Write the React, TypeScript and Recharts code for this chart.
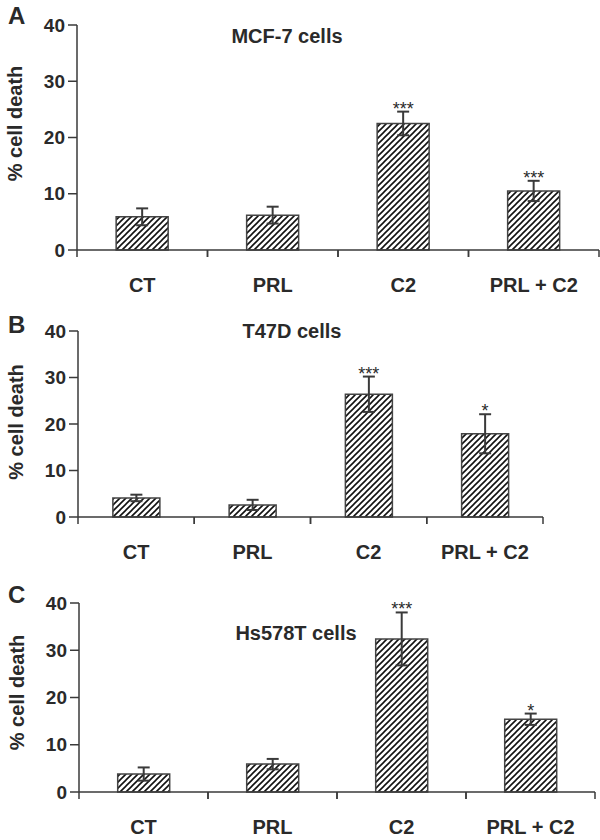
import React from "react";
import { BarChart, Bar, XAxis, YAxis, ErrorBar, LabelList } from "recharts";

const categories = ["CT", "PRL", "C2", "PRL + C2"];
const yTicks = [0, 10, 20, 30, 40];

const mcf7Death = [5.9, 6.2, 22.5, 10.5];
const mcf7Sem = [1.5, 1.5, 2.1, 1.8];
const mcf7Stars = ["", "", "***", "***"];

const t47dDeath = [4.1, 2.6, 26.4, 17.9];
const t47dSem = [0.7, 1.1, 3.8, 4.2];
const t47dStars = ["", "", "***", "*"];

const hs578tDeath = [3.8, 5.9, 32.4, 15.4];
const hs578tSem = [1.4, 1.1, 5.6, 1.2];
const hs578tStars = ["", "", "***", "*"];

const FONT = '"Liberation Sans", Arial, Helvetica, sans-serif';
const INK = "#2a2a2a";
const LINE = "#3a3a3a";

const panels = [
  {
    letter: "A",
    title: "MCF-7 cells",
    values: mcf7Death,
    errors: mcf7Sem,
    stars: mcf7Stars,
    top: 0,
    height: 300,
    margin: { top: 25, right: 1, bottom: 10, left: 32 },
    titleX: 287,
    titleY: 36,
    letterY: 16,
    labelShift: 14,
  },
  {
    letter: "B",
    title: "T47D cells",
    values: t47dDeath,
    errors: t47dSem,
    stars: t47dStars,
    top: 300,
    height: 270,
    margin: { top: 31, right: 57, bottom: 13, left: 33 },
    titleX: 292,
    titleY: 331,
    letterY: 325,
    labelShift: 2,
  },
  {
    letter: "C",
    title: "Hs578T cells",
    values: hs578tDeath,
    errors: hs578tSem,
    stars: hs578tStars,
    top: 570,
    height: 270,
    margin: { top: 33, right: 5, bottom: 8, left: 34 },
    titleX: 296,
    titleY: 633,
    letterY: 595,
    labelShift: 5,
  },
];

const CategoryTick = (props: any) => {
  const { x, y, payload, width } = props;
  const half = payload?.offset ?? width / (2 * categories.length);
  return (
    <g>
      <line x1={x - half} y1={y} x2={x - half} y2={y + 7} stroke={LINE} strokeWidth={1.5} />
      <line x1={x + half} y1={y} x2={x + half} y2={y + 7} stroke={LINE} strokeWidth={1.5} />
      <text
        x={x}
        y={y + 42}
        textAnchor="middle"
        fontFamily={FONT}
        fontWeight="bold"
        fontSize={20}
        fill={INK}
      >
        {payload.value}
      </text>
    </g>
  );
};

const makeStarLabel = (values: number[], errors: number[]) => (props: any) => {
  const vb = props.viewBox || props;
  const { index, value } = props;
  if (!value) return null;
  const x = vb.x ?? props.x;
  const y = vb.y ?? props.y;
  const w = vb.width ?? props.width;
  const h = vb.height ?? props.height;
  const perUnit = h / values[index];
  const capY = y - errors[index] * perUnit;
  return (
    <text
      x={x + w / 2}
      y={capY + 3}
      textAnchor="middle"
      fontFamily={FONT}
      fontSize={18}
      fill={INK}
    >
      {value}
    </text>
  );
};

const Panel = ({ p }: { p: (typeof panels)[number] }) => {
  const rows = categories.map((name, i) => ({
    name,
    death: p.values[i],
    sem: p.errors[i],
    stars: p.stars[i],
  }));

  return (
    <div style={{ position: "absolute", left: 0, top: p.top, width: 600, height: p.height }}>
      <BarChart width={600} height={p.height} data={rows} margin={p.margin} barCategoryGap="30%">
        <XAxis
          dataKey="name"
          height={40}
          tickLine={false}
          tickSize={0}
          tickMargin={0}
          axisLine={{ stroke: LINE, strokeWidth: 1.5 }}
          tick={<CategoryTick />}
          interval={0}
        />
        <YAxis
          width={45}
          domain={[0, 40]}
          ticks={yTicks}
          tickSize={9}
          tickMargin={3}
          axisLine={{ stroke: LINE, strokeWidth: 1.5 }}
          tickLine={{ stroke: LINE, strokeWidth: 1.5 }}
          tick={{ fontFamily: FONT, fontWeight: "bold", fontSize: 19, fill: INK }}
          label={{
            content: (lp: any) => {
              const vb = lp.viewBox;
              const cx = vb.x - 17;
              const cy = vb.y + vb.height / 2 - p.labelShift;
              return (
                <text
                  x={cx}
                  y={cy}
                  transform={`rotate(-90, ${cx}, ${cy})`}
                  textAnchor="middle"
                  dominantBaseline="central"
                  fontFamily={FONT}
                  fontWeight="bold"
                  fontSize={20}
                  fill={INK}
                >
                  % cell death
                </text>
              );
            },
          }}
        />
        <Bar
          dataKey="death"
          fill="url(#hatch)"
          stroke="#444"
          strokeWidth={1.5}
          isAnimationActive={false}
        >
          <ErrorBar dataKey="sem" width={6} stroke={LINE} strokeWidth={2} direction="y" />
          <LabelList dataKey="stars" content={makeStarLabel(p.values, p.errors)} />
        </Bar>
      </BarChart>
      <div
        style={{
          position: "absolute",
          left: 8,
          top: p.letterY - p.top,
          transform: "translateY(-50%)",
          fontFamily: FONT,
          fontWeight: "bold",
          fontSize: 24,
          lineHeight: 1,
          color: INK,
        }}
      >
        {p.letter}
      </div>
      <div
        style={{
          position: "absolute",
          left: p.titleX,
          top: p.titleY - p.top,
          transform: "translate(-50%, -50%)",
          fontFamily: FONT,
          fontWeight: "bold",
          fontSize: 20,
          lineHeight: 1,
          whiteSpace: "nowrap",
          color: INK,
        }}
      >
        {p.title}
      </div>
    </div>
  );
};

export default function App() {
  return (
    <div
      style={{
        position: "absolute",
        left: 0,
        top: 0,
        width: 600,
        height: 840,
        background: "#fff",
        overflow: "hidden",
      }}
    >
      <svg width={0} height={0} style={{ position: "absolute" }}>
        <defs>
          <pattern id="hatch" patternUnits="userSpaceOnUse" width={6} height={6}>
            <rect width={6} height={6} fill="#fff" />
            <path d="M-1,1 l2,-2 M0,6 l6,-6 M5,7 l2,-2" stroke="#111" strokeWidth={1.6} />
          </pattern>
        </defs>
      </svg>
      {panels.map((p) => (
        <Panel key={p.letter} p={p} />
      ))}
    </div>
  );
}
